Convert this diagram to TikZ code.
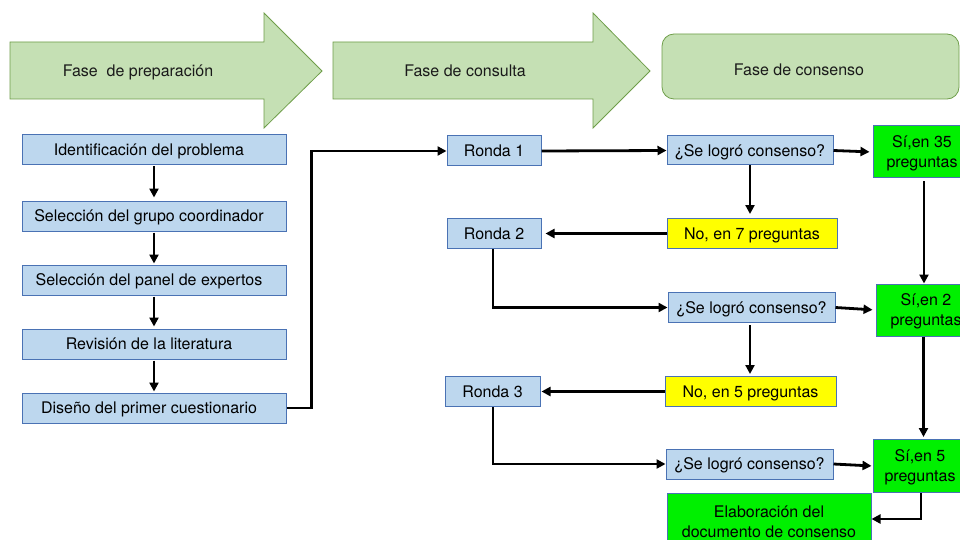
\documentclass[tikz,border=0pt]{standalone}
\usepackage{fontspec}
\setmainfont{TeX Gyre Heros}
\usetikzlibrary{arrows.meta,calc}
\definecolor{phasefill}{HTML}{C5E0B4}
\definecolor{phasedraw}{HTML}{6F9E4A}
\definecolor{boxblue}{HTML}{BDD7EE}
\definecolor{boxdraw}{HTML}{4A72B4}
\definecolor{brightgreen}{HTML}{00F000}
\definecolor{brightyellow}{HTML}{FFFF00}
\definecolor{phasetext}{HTML}{1A1A1A}
\begin{document}
\begin{tikzpicture}[x=1pt,y=-1pt,
  every node/.style={font=\fontsize{16}{20}\selectfont, inner sep=0pt},
  phase/.style={draw=phasedraw, line width=0.8pt, fill=phasefill},
  phaselabel/.style={text=phasetext},
  oneline/.style={text height=11.5pt, text depth=0pt},
  bbox/.style={draw=boxdraw, line width=1pt, fill=boxblue, minimum height=30pt, oneline},
  leftbox/.style={bbox, minimum width=264pt, execute at end node={\hspace*{10pt}}},
  ybox/.style={draw=boxdraw, line width=1pt, fill=brightyellow, minimum height=30pt, oneline},
  gbox/.style={draw=boxdraw, line width=1pt, fill=brightgreen, minimum height=52pt, align=center, text depth=0pt},
  conn/.style={line width=2.8pt, -{Triangle[length=9pt,width=9pt]}},
]
\clip (0,0) rectangle (960,540);
\fill[white] (0,0) rectangle (960,540);

% phase shapes
\draw[phase] (10,42) -- (264,42) -- (264,13) -- (322,71) -- (264,128) -- (264,99) -- (10,99) -- cycle;
\node[phaselabel, oneline] (f1) at (138,71) {Fase~ de preparación};
\draw[phase] (333,42) -- (593,42) -- (593,13) -- (650,71) -- (593,128) -- (593,99) -- (333,99) -- cycle;
\node[phaselabel, oneline] (f2) at (465,71) {Fase de consulta};
\draw[phase, rounded corners=12pt] (662,34) rectangle (959,99);
\node[phaselabel, oneline] (f3) at (799,70) {Fase de consenso};

% left column
\node[leftbox] (b1) at (154,150) {Identificación del problema};
\node[leftbox] (b2) at (154,216) {Selección del grupo coordinador};
\node[leftbox] (b3) at (154,280) {Selección del panel de expertos};
\node[leftbox] (b4) at (154,344) {Revisión de la literatura};
\node[leftbox] (b5) at (154,408) {Diseño del primer cuestionario};

% rounds
\node[bbox, minimum width=94pt] (r1) at (494,151) {Ronda 1};
\node[bbox, minimum width=94pt] (r2) at (494,233.5) {Ronda 2};
\node[bbox, minimum width=95pt] (r3) at (492.5,391.5) {Ronda 3};

% questions
\node[bbox, minimum width=166pt, minimum height=29pt] (q1) at (750,150.5) {¿Se logró consenso?};
\node[bbox, minimum width=167pt] (q2) at (751.5,307.5) {¿Se logró consenso?};
\node[bbox, minimum width=167pt] (q3) at (749.5,464) {¿Se logró consenso?};

% no
\node[ybox, minimum width=170pt] (n1) at (752,233.5) {No, en 7 preguntas};
\node[ybox, minimum width=171pt] (n2) at (750.5,391.5) {No, en 5 preguntas};

% yes
\node[gbox, minimum width=98pt] (s1) at (922,152) {Sí,en 35\\preguntas};
\node[gbox, minimum width=100pt] (s2) at (926,310) {Sí,en 2\\preguntas};
\node[gbox, minimum width=94pt, minimum height=53pt] (s3) at (920,466) {Sí,en 5\\preguntas};
\node[gbox, minimum width=204pt, minimum height=57pt] (e) at (769,522) {Elaboración del\\documento de consenso};

% connectors left column
\draw[conn, shorten <=1pt, shorten >=3pt] (b1.south) -- (b2.north);
\draw[conn, shorten <=1pt, shorten >=1pt] (b2.south) -- (b3.north);
\draw[conn, shorten <=1pt, shorten >=2pt] (b3.south) -- (b4.north);
\draw[conn, shorten <=1pt, shorten >=1pt] (b4.south) -- (b5.north);
\draw[conn] (b5.east) -- ++(25,0) |- (r1.west);

% round 1
\draw[conn] (r1.east) -- (q1.west);
\draw[conn, shorten >=3pt] (q1.east) -- (s1.west);
\draw[conn, shorten >=4pt] (q1.south) -- (q1.south |- n1.north);
\draw[conn, shorten >=4pt] (n1.west) -- (r2.east);
\draw[conn] ([xshift=-1pt]r2.south) |- (q2.west);
\draw[conn, shorten <=3pt] ([xshift=2pt]s1.south) -- ([xshift=2pt]s1.south |- s2.north);

% round 2
\draw[conn, shorten >=3pt] (q2.east) -- (s2.west);
\draw[conn, shorten <=2pt, shorten >=2pt] ([xshift=-1.5pt]q2.south) -- ([xshift=-1.5pt]q2.south |- n2.north);
\draw[conn, shorten >=1pt] (n2.west) -- (r3.east);
\draw[conn] ([xshift=0.5pt]r3.south) |- (q3.west);
\draw[conn, shorten >=2pt] ([xshift=-2.5pt]s2.south) -- ([xshift=-2.5pt]s2.south |- s3.north);

% round 3
\draw[conn, shorten >=1pt] (q3.east) -- (s3.west);
\draw[conn] ([xshift=1pt]s3.south) |- ([yshift=3pt]e.east);
\end{tikzpicture}
\end{document}
